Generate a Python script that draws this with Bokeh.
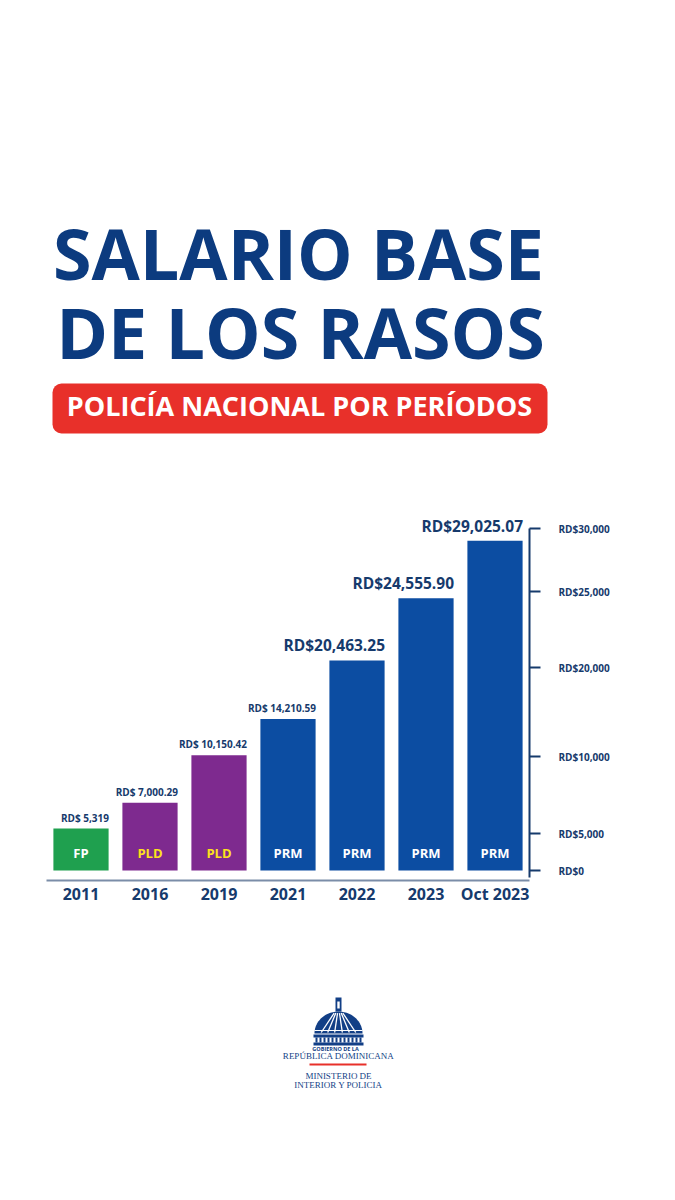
import numpy as np
from bokeh.plotting import figure
from bokeh.layouts import column
from bokeh.models import Range1d, FactorRange, FixedTicker, ColumnDataSource
from bokeh.core.properties import value, field
from bokeh.embed import file_html
from bokeh.resources import INLINE

# ---------------- data ----------------
categories = ["2011", "2016", "2019", "2021", "2022", "2023", "Oct 2023"]
salaries = [5319.00, 7000.29, 10150.42, 14210.59, 20463.25, 24555.90, 29025.07]
value_labels = ["RD$ 5,319", "RD$ 7,000.29", "RD$ 10,150.42", "RD$ 14,210.59",
                "RD$20,463.25", "RD$24,555.90", "RD$29,025.07"]
parties = ["FP", "PLD", "PLD", "PRM", "PRM", "PRM", "PRM"]
tick_values = [0, 5000, 10000, 20000, 25000, 30000]
tick_labels = ["RD$0", "RD$5,000", "RD$10,000", "RD$20,000", "RD$25,000", "RD$30,000"]

title_lines = ["SALARIO BASE", "DE LOS RASOS"]
subtitle = "POLICÍA NACIONAL POR PERÍODOS"

# ---------------- style ----------------
# the original uses a non-linear (piecewise) value axis: display units per tick
AXIS_STOPS = [0, 37, 114, 203, 279, 342]
PARTY_FILL = {"FP": "#1fa04f", "PLD": "#7e2a8f", "PRM": "#0c4da2"}
PARTY_TEXT = {"FP": "#ffffff", "PLD": "#fbe21c", "PRM": "#ffffff"}
NAVY = "#163a6c"
TITLE_BLUE = "#0c3b7f"
LOGO_BLUE = "#123f86"
RED = "#e8302a"
FONT = value("Open Sans")
SERIF = value("Liberation Serif")
W = 675
H_HEAD, H_CHART, H_FOOT = 470, 450, 280
BASE_SHIFT = 0.4  # alphabetic baseline correction (fraction of font size)


def scale(v):
    return np.interp(v, tick_values, AXIS_STOPS)


def blank(height, yr):
    p = figure(width=W, height=height, x_range=Range1d(0, W), y_range=yr,
               output_backend="svg", toolbar_location=None,
               x_axis_location=None, y_axis_location=None,
               min_border=0, outline_line_color=None, frame_align=False)
    p.grid.visible = False
    p.background_fill_color = "white"
    p.border_fill_color = "white"
    return p


# ---------------- header ----------------
head = blank(H_HEAD, Range1d(H_HEAD, 0))
head.text(x=[298, 300], y=[280 - BASE_SHIFT * 70, 359 - BASE_SHIFT * 70], text=title_lines,
          text_font=FONT, text_font_style="bold", text_font_size="70px",
          text_color=TITLE_BLUE, text_align="center", text_baseline="alphabetic")
head.quad(left=52, right=547, top=383, bottom=433, fill_color=RED,
          line_color=None, border_radius=9)
head.text(x=[299], y=[416 - BASE_SHIFT * 27], text=[subtitle], text_font=FONT,
          text_font_style="bold", text_font_size="27px", text_color="white",
          text_align="center", text_baseline="alphabetic")

# ---------------- chart ----------------
src = ColumnDataSource(dict(
    cat=categories,
    top=scale(salaries),
    label=value_labels,
    party=parties,
    fill=[PARTY_FILL[p] for p in parties],
    pcol=[PARTY_TEXT[p] for p in parties],
    lsize=["10px" if s < 20000 else "15.5px" for s in salaries],
))

chart = figure(width=W, height=H_CHART, x_range=FactorRange(*categories),
               y_range=Range1d(-10, 400), output_backend="svg",
               toolbar_location=None, y_axis_location="right",
               min_border_left=46, min_border_right=146, min_border_top=0,
               min_border_bottom=40, outline_line_color=None, frame_align=False)
chart.grid.visible = False
chart.background_fill_color = "white"
chart.border_fill_color = "white"

chart.vbar(x="cat", top="top", bottom=0, width=0.8, source=src,
           fill_color="fill", line_color=None)
chart.text(x="cat", y="top", text="label", source=src, x_offset=28, y_offset=-4,
           text_font=FONT, text_font_style="bold", text_font_size=field("lsize"),
           text_color=NAVY, text_align="right", text_baseline="bottom")
chart.text(x="cat", y=0, text="party", source=src, y_offset=-17.5,
           text_font=FONT, text_font_style="bold", text_font_size="13px",
           text_color="pcol", text_align="center", text_baseline="middle")

xa = chart.xaxis[0]
xa.axis_line_color = "#7b8da8"
xa.axis_line_width = 2
xa.major_tick_line_color = None
xa.minor_tick_line_color = None
xa.major_label_standoff = -4
xa.major_label_text_font = "Open Sans"
xa.major_label_text_font_style = "bold"
xa.major_label_text_font_size = "16px"
xa.major_label_text_color = NAVY

ya = chart.yaxis[0]
ticks = [int(round(t)) for t in scale(tick_values)]
ya.ticker = FixedTicker(ticks=ticks)
ya.major_label_overrides = {t: lab for t, lab in zip(ticks, tick_labels)}
ya.bounds = (-7, ticks[-1])
ya.axis_line_color = NAVY
ya.axis_line_width = 2
ya.major_tick_line_color = NAVY
ya.major_tick_line_width = 2
ya.major_tick_out = 11
ya.major_tick_in = 0
ya.minor_tick_line_color = None
ya.major_label_standoff = 18
ya.major_label_text_font = "Open Sans"
ya.major_label_text_font_style = "bold"
ya.major_label_text_font_size = "10px"
ya.major_label_text_color = NAVY

# ---------------- footer (logo) ----------------
foot = blank(H_FOOT, Range1d(H_FOOT, 0))
cx, cy, rx, ry = 338, 113, 24, 22
th = np.linspace(0, np.pi, 60)
foot.patch(x=cx + rx * np.cos(th), y=cy - ry * np.sin(th), fill_color=LOGO_BLUE,
           line_color=None)
for u in [-0.72, -0.45, -0.16, 0.16, 0.45, 0.72]:
    foot.line(x=[cx + u * rx, cx + u * rx * 0.25], y=[cy - 1, cy - ry * 0.93],
              line_color="white", line_width=1.3)
foot.line(x=[cx - rx, cx + rx], y=[cy - 3, cy - 3], line_color="white", line_width=1.2)
foot.quad(left=cx - 3, right=cx + 3, top=77, bottom=91, fill_color=LOGO_BLUE, line_color=None)
foot.quad(left=cx - 1.2, right=cx + 1.2, top=81, bottom=88, fill_color="white", line_color=None)
foot.quad(left=cx - 25, right=cx + 25, top=114, bottom=117, fill_color=LOGO_BLUE, line_color=None)
cols = np.arange(cx - 22, cx + 23, 4)
foot.quad(left=cols - 1, right=cols + 1, top=117, bottom=122, fill_color=LOGO_BLUE, line_color=None)
foot.quad(left=cx - 25, right=cx + 25, top=122, bottom=125, fill_color=LOGO_BLUE, line_color=None)
foot.text(x=[cx - 3], y=[128], text=["GOBIERNO DE LA"], text_font=FONT, text_font_style="bold",
          text_font_size="5.5px", text_color=LOGO_BLUE, text_align="center",
          text_baseline="middle")
foot.text(x=[cx], y=[135], text=["REPÚBLICA DOMINICANA"], text_font=SERIF,
          text_font_size="9px", text_color=LOGO_BLUE, text_align="center",
          text_baseline="middle")
foot.line(x=[cx - 29, cx + 28], y=[144, 144], line_color=RED, line_width=2)
foot.text(x=[cx, cx], y=[155, 164], text=["MINISTERIO DE", "INTERIOR Y POLICIA"],
          text_font=SERIF, text_font_size="9px", text_color=LOGO_BLUE,
          text_align="center", text_baseline="middle")

layout = column(head, chart, foot, spacing=0)
open("out.html", "w").write(file_html(layout, INLINE))
